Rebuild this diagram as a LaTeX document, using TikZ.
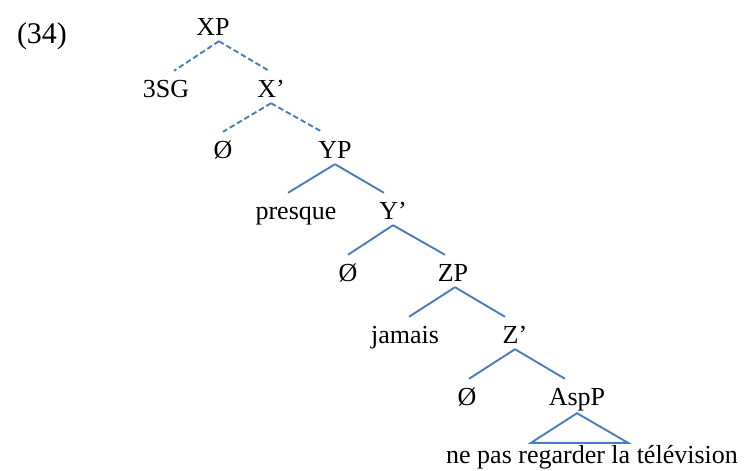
\documentclass[tikz,border=0pt]{standalone}
\usepackage{fontspec}
\setmainfont{Liberation Serif}
\usepackage{xcolor}
\usepackage{tikz}

\definecolor{treeblue}{HTML}{4A7EBB}

\begin{document}
\begin{tikzpicture}[x=1pt, y=-1pt,
		lab/.style={anchor=base, inner sep=0pt, text height=26pt, text depth=6pt, font=\fontsize{26}{30}\selectfont},
		phrase/.style={lab, text height=20pt},
		branch/.style={treeblue, line width=1.9pt},
		dbranch/.style={branch, dash pattern=on 5.5pt off 3pt}]
			\useasboundingbox (0,0) rectangle (744,471);

			%例句编号
			\node[lab, font=\fontsize{30}{34}\selectfont] (num) at (42,43) {(34)};

			%XP层
			\node[lab] (XP) at (213,35) {XP};
			\node[lab] (spec1) at (166,97) {3SG};
			\node[lab] (X1) at (271,97) {X’};
			\node[lab] (head1) at (223,158) {Ø};
			\draw[dbranch] ([xshift=6pt]XP.south) -- ([xshift=8pt]spec1.north);
			\draw[dbranch] ([xshift=6pt]XP.south) -- ([xshift=-2pt]X1.north);
			\draw[dbranch] (X1.south) -- (head1.north);

			%YP层
			\node[lab] (YP) at (335,158) {YP};
			\node[lab] (spec2) at (296,219) {presque};
			\node[lab] (Y1) at (393,219) {Y’};
			\node[lab] (head2) at (348,281) {Ø};
			\draw[dbranch] (X1.south) -- ([xshift=-13pt]YP.north);
			\draw[branch] (YP.south) -- ([xshift=-8pt]spec2.north);
			\draw[branch] (YP.south) -- ([xshift=-9pt]Y1.north);
			\draw[branch] (Y1.south) -- (head2.north);

			%ZP层
			\node[lab] (ZP) at (453,281) {ZP};
			\node[lab] (spec3) at (405,343) {jamais};
			\node[lab] (Z1) at (515,343) {Z’};
			\node[lab] (head3) at (467,405) {Ø};
			\draw[branch] (Y1.south) -- ([xshift=-8pt]ZP.north);
			\draw[branch] ([xshift=2pt]ZP.south) -- ([xshift=4pt]spec3.north);
			\draw[branch] ([xshift=2pt]ZP.south) -- ([xshift=-10pt]Z1.north);
			\draw[branch] (Z1.south) -- ([xshift=2pt]head3.north);

			%AspP
			\node[lab] (AspP) at (577,405) {AspP};
			\node[phrase] (VP) at (592,463) {ne pas regarder la télévision};
			\draw[branch] (Z1.south) -- ([xshift=-12pt]AspP.north);
			\draw[branch] ([yshift=-2pt]AspP.south) -- ([xshift=-61pt]VP.north) -- ([xshift=36pt]VP.north) -- cycle;
		\end{tikzpicture}
\end{document}
